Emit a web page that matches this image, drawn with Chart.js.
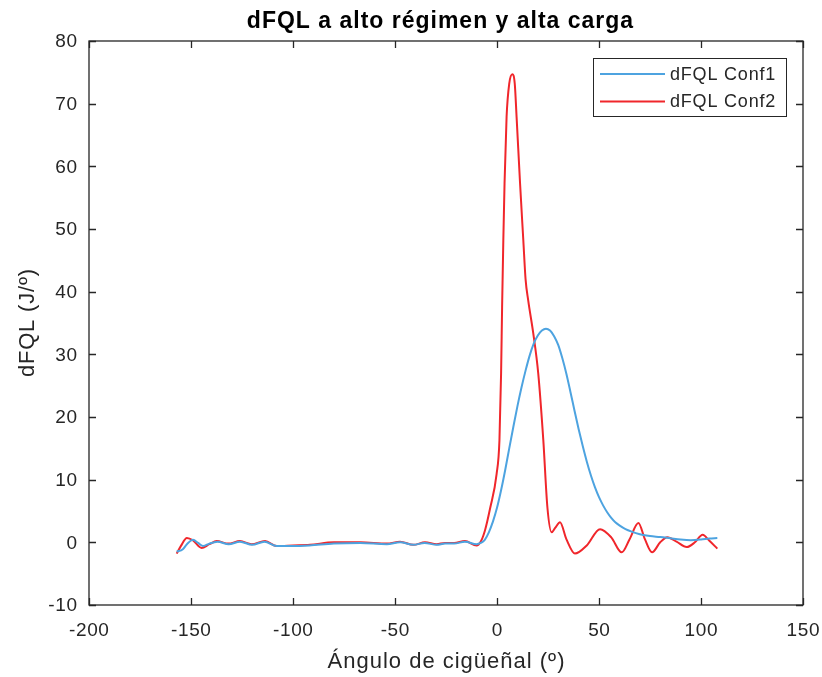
<!DOCTYPE html>
<html>
<head>
<meta charset="utf-8">
<script src="https://cdn.jsdelivr.net/npm/chart.js@4.4.1/dist/chart.umd.min.js"></script>
<style>
  html, body { margin: 0; padding: 0; background: #fff; }
  #wrap { width: 822px; height: 677px; }
</style>
</head>
<body>
<div id="wrap"><canvas id="c" width="822" height="677"></canvas></div>
<script>
// Heat release rate, configuration 1 (crank angle in degrees, J/deg)
const conf1Angle = [-157, -154, -152, -149, -146.5, -144, -141, -137, -131.5, -126, -120, -114, -108, -100, -92, -80, -67, -54, -47.5, -41, -35.5, -29.5, -25.5, -21, -15.7, -10, -8, -6, -4, -2, 0, 2, 4, 6, 8, 10, 12, 14, 16, 18, 20, 22, 24, 26, 28, 30, 32, 34, 36, 38, 40, 42, 44, 46, 48, 50, 52, 54, 56, 58, 60, 63, 66, 70, 75, 80, 85, 90, 95, 100, 104, 108];
const conf1Value = [-1.5, -1.1, -0.3, 0.4, -0.1, -0.6, -0.2, 0.1, -0.3, 0.1, -0.4, 0.1, -0.6, -0.6, -0.5, -0.2, -0.1, -0.3, 0.0, -0.4, -0.1, -0.4, -0.2, -0.2, 0.1, -0.3, -0.1, 0.4, 1.6, 3.3, 5.5, 8.3, 11.5, 15.0, 18.4, 21.7, 24.7, 27.4, 29.8, 31.7, 33.0, 33.8, 34.1, 33.8, 32.9, 31.5, 29.4, 26.9, 24.0, 21.0, 18.1, 15.4, 12.9, 10.7, 8.8, 7.2, 5.9, 4.8, 3.9, 3.2, 2.7, 2.1, 1.7, 1.3, 1.0, 0.85, 0.65, 0.45, 0.35, 0.45, 0.6, 0.7];

// Heat release rate, configuration 2
const conf2Angle = [-157, -155, -152, -149, -144.8, -141, -137.4, -131.7, -126, -120.3, -113.7, -108, -100, -91.7, -80, -67, -54, -47.5, -41, -35.3, -29.6, -25.5, -21, -15.7, -10, -8, -5.9, -3.4, -0.2, 1.2, 2.0, 2.5, 3.1, 3.7, 4.7, 6.0, 7.5, 8.7, 9.6, 11.3, 12.9, 14.0, 15.3, 17.8, 20.2, 22.7, 24.7, 26.8, 28.5, 30.9, 34, 38.2, 44, 50.5, 56, 61.1, 65, 69.3, 72.5, 76, 80, 83.5, 88, 93, 97, 100.8, 104, 108];
const conf2Value = [-1.8, -0.6, 0.7, 0.3, -0.9, -0.3, 0.2, -0.2, 0.2, -0.3, 0.2, -0.6, -0.5, -0.4, 0.0, 0.0, -0.2, 0.1, -0.4, 0.0, -0.3, -0.1, -0.1, 0.2, -0.5, 0.1, 1.9, 5.4, 10.9, 16.3, 26.9, 37.5, 48.2, 57.3, 67.9, 73.2, 74.7, 73.2, 67.9, 57.3, 48.2, 42.0, 38.6, 33.3, 27.0, 16.3, 5.6, 1.6, 2.3, 3.2, 0.5, -1.8, -0.5, 2.1, 0.8, -1.6, 0.5, 3.1, 0.5, -1.6, 0.0, 0.8, 0.1, -0.75, 0.0, 1.2, 0.3, -1.0];

const seriesNames = ['dFQL Conf1', 'dFQL Conf2'];
const xTicks = [-200, -150, -100, -50, 0, 50, 100, 150];
const yTicks = [-10, 0, 10, 20, 30, 40, 50, 60, 70, 80];

const titleText = 'dFQL a alto régimen y alta carga';
const xTitle = 'Ángulo de cigüeñal (º)';
const yTitle = 'dFQL (J/º)';

const FONT = '"Liberation Sans", Arial, Helvetica, sans-serif';
const AXIS_COLOR = '#262626';
const colors = ['#4da3e0', '#f0262b'];

const toPoints = (xs, ys) => xs.map((x, i) => ({ x: x, y: ys[i] }));

function text(ctx, str, x, y, font, spacing, align, color) {
  ctx.font = font;
  ctx.letterSpacing = spacing + 'px';
  ctx.fillStyle = color;
  ctx.textBaseline = 'middle';
  // letter spacing adds trailing space; compensate for alignment
  const w = ctx.measureText(str).width - spacing;
  let x0 = x;
  if (align === 'center') x0 = x - w / 2;
  else if (align === 'right') x0 = x - w;
  ctx.textAlign = 'left';
  ctx.fillText(str, x0, y);
  ctx.letterSpacing = '0px';
}

// Frame, inward tick marks, labels, titles and legend
const decorations = {
  id: 'decorations',
  afterDraw(chart) {
    const ctx = chart.ctx;
    const a = chart.chartArea;
    const xs = chart.scales.x, ys = chart.scales.y;
    const tl = 7;
    ctx.save();
    ctx.strokeStyle = AXIS_COLOR;
    ctx.lineWidth = 1.3;
    ctx.strokeRect(a.left, a.top, a.right - a.left, a.bottom - a.top);
    ctx.beginPath();
    xTicks.forEach(v => {
      const p = Math.round(xs.getPixelForValue(v)) + 0.5;
      ctx.moveTo(p, a.bottom); ctx.lineTo(p, a.bottom - tl);
      ctx.moveTo(p, a.top); ctx.lineTo(p, a.top + tl);
    });
    yTicks.forEach(v => {
      const p = Math.round(ys.getPixelForValue(v)) + 0.5;
      ctx.moveTo(a.left, p); ctx.lineTo(a.left + tl, p);
      ctx.moveTo(a.right, p); ctx.lineTo(a.right - tl, p);
    });
    ctx.stroke();

    // tick labels
    const tickFont = '19px ' + FONT;
    xTicks.forEach(v => text(ctx, String(v), xs.getPixelForValue(v), a.bottom + 26, tickFont, 0.6, 'center', AXIS_COLOR));
    yTicks.forEach(v => text(ctx, String(v), a.left - 12, ys.getPixelForValue(v) + 1, tickFont, 0.6, 'right', AXIS_COLOR));

    // titles
    text(ctx, titleText, 440, 22, 'bold 23px ' + FONT, 1, 'center', '#000');
    text(ctx, xTitle, (a.left + a.right) / 2, 662, '22px ' + FONT, 1, 'center', AXIS_COLOR);
    ctx.save();
    ctx.translate(28, (a.top + a.bottom) / 2);
    ctx.rotate(-Math.PI / 2);
    text(ctx, yTitle, 0, 0, '22px ' + FONT, 0.8, 'center', AXIS_COLOR);
    ctx.restore();

    // legend box
    const lx = 593, ly = 58, lw = 193, lh = 58;
    ctx.fillStyle = '#fff';
    ctx.fillRect(lx, ly, lw, lh);
    ctx.strokeStyle = AXIS_COLOR;
    ctx.lineWidth = 1;
    ctx.strokeRect(lx + 0.5, ly + 0.5, lw, lh);
    chart.data.datasets.forEach((ds, i) => {
      const yy = 74 + i * 27.5;
      ctx.strokeStyle = ds.borderColor;
      ctx.lineWidth = 2;
      ctx.beginPath();
      ctx.moveTo(600, yy); ctx.lineTo(665, yy);
      ctx.stroke();
      text(ctx, ds.label, 670, yy + 1, '18px ' + FONT, 0.8, 'left', AXIS_COLOR);
    });
    ctx.restore();
  }
};

new Chart(document.getElementById('c'), {
  type: 'line',
  data: {
    datasets: [
      { label: seriesNames[0], data: toPoints(conf1Angle, conf1Value), borderColor: colors[0] },
      { label: seriesNames[1], data: toPoints(conf2Angle, conf2Value), borderColor: colors[1] }
    ]
  },
  options: {
    responsive: false,
    animation: false,
    events: [],
    layout: { padding: { top: 41, right: 19, left: 0, bottom: 0 } },
    elements: {
      line: { borderWidth: 2, cubicInterpolationMode: 'monotone', fill: false },
      point: { radius: 0 }
    },
    plugins: { legend: { display: false }, title: { display: false }, tooltip: { enabled: false } },
    scales: {
      x: {
        type: 'linear', min: -200, max: 150,
        afterFit(s) { s.height = 72; s.paddingLeft = 0; s.paddingRight = 0; },
        afterBuildTicks(s) { s.ticks = xTicks.map(v => ({ value: v })); },
        grid: { display: false, drawTicks: false },
        border: { display: false },
        ticks: { display: false }
      },
      y: {
        type: 'linear', min: -10, max: 80,
        afterFit(s) { s.width = 89; s.paddingTop = 0; s.paddingBottom = 0; },
        afterBuildTicks(s) { s.ticks = yTicks.map(v => ({ value: v })); },
        grid: { display: false, drawTicks: false },
        border: { display: false },
        ticks: { display: false }
      }
    }
  },
  plugins: [decorations]
});
</script>
</body>
</html>
